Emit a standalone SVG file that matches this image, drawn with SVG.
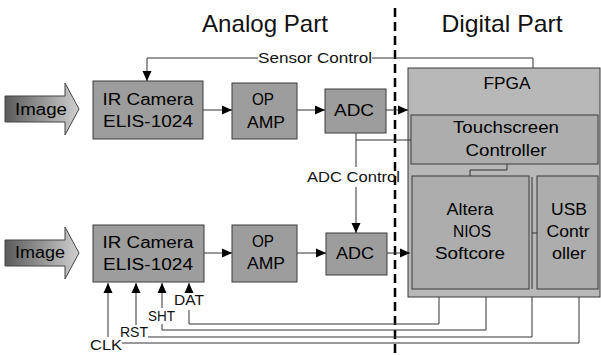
<svg xmlns="http://www.w3.org/2000/svg" width="601" height="355" viewBox="0 0 601 355">
<defs>
<linearGradient id="imgGrad" x1="0" y1="0" x2="1" y2="0">
<stop offset="0" stop-color="#5a5a5a"/>
<stop offset="1" stop-color="#cfcfcf"/>
</linearGradient>
<marker id="ah" markerWidth="10" markerHeight="10" refX="10" refY="5" orient="auto" markerUnits="userSpaceOnUse">
<path d="M0,0.5 L10,5 L0,9.5 Z" fill="#000"/>
</marker>
<style>
.box{fill:#9d9d9d;stroke:#3a3a3a;stroke-width:1}
.fpga{fill:#b8b8b8;stroke:#3a3a3a;stroke-width:1}
.sub{fill:#adadad;stroke:#3a3a3a;stroke-width:1}
.img{fill:url(#imgGrad);stroke:#444;stroke-width:1}
.t{font-family:"Liberation Sans",Arial,sans-serif;font-size:16px;fill:#000;text-anchor:middle}
.title{font-family:"Liberation Sans",Arial,sans-serif;font-size:24px;fill:#111;text-anchor:middle}
.lbl{font-family:"Liberation Sans",Arial,sans-serif;font-size:15px;fill:#111}
.c{fill:none;stroke:#333;stroke-width:1}
.ca{fill:none;stroke:#333;stroke-width:1;marker-end:url(#ah)}
.dash{fill:none;stroke:#000;stroke-width:2.5;stroke-dasharray:9,5}
</style>
</defs>
<rect width="601" height="355" fill="#fff"/>

<g id="titles">
<text class="title" x="265" y="32" textLength="126" lengthAdjust="spacingAndGlyphs">Analog Part</text>
<text class="title" x="502" y="32" textLength="121" lengthAdjust="spacingAndGlyphs">Digital Part</text>
</g>

<line id="divider" class="dash" x1="395" y1="8" x2="395" y2="355"/>

<g id="image1">
<path class="img" d="M5,96 H65 V83 L79,109 L65,135 V122 H5 Z"/>
<text class="t" x="41" y="115" textLength="52" lengthAdjust="spacingAndGlyphs">Image</text>
</g>
<g id="image2">
<path class="img" d="M5,240 H65 V227 L79,253 L65,279 V266 H5 Z"/>
<text class="t" x="40" y="258" textLength="50" lengthAdjust="spacingAndGlyphs">Image</text>
</g>

<g id="camera1">
<rect class="box" x="93" y="81" width="110" height="58"/>
<text class="t" x="148" y="105" textLength="91" lengthAdjust="spacingAndGlyphs">IR Camera</text>
<text class="t" x="148" y="127" textLength="90" lengthAdjust="spacingAndGlyphs">ELIS-1024</text>
</g>
<g id="opamp1">
<rect class="box" x="232" y="83" width="65" height="56"/>
<text class="t" x="263" y="105" textLength="22" lengthAdjust="spacingAndGlyphs">OP</text>
<text class="t" x="266" y="128" textLength="38" lengthAdjust="spacingAndGlyphs">AMP</text>
</g>
<g id="adc1">
<rect class="box" x="325" y="89" width="61" height="44"/>
<text class="t" x="354" y="116" textLength="40" lengthAdjust="spacingAndGlyphs">ADC</text>
</g>

<g id="camera2">
<rect class="box" x="93" y="225" width="111" height="57"/>
<text class="t" x="148" y="248" textLength="91" lengthAdjust="spacingAndGlyphs">IR Camera</text>
<text class="t" x="148" y="270" textLength="90" lengthAdjust="spacingAndGlyphs">ELIS-1024</text>
</g>
<g id="opamp2">
<rect class="box" x="232" y="225" width="65" height="57"/>
<text class="t" x="263" y="247" textLength="22" lengthAdjust="spacingAndGlyphs">OP</text>
<text class="t" x="266" y="269" textLength="38" lengthAdjust="spacingAndGlyphs">AMP</text>
</g>
<g id="adc2">
<rect class="box" x="326" y="233" width="61" height="42"/>
<text class="t" x="355" y="259" textLength="38" lengthAdjust="spacingAndGlyphs">ADC</text>
</g>

<g id="fpga">
<rect class="fpga" x="408" y="68" width="192" height="229"/>
<text class="t" x="507" y="89" textLength="47" lengthAdjust="spacingAndGlyphs">FPGA</text>
</g>
<g id="touchscreen">
<rect class="sub" x="411" y="115" width="187" height="49"/>
<text class="t" x="506" y="133" textLength="106" lengthAdjust="spacingAndGlyphs">Touchscreen</text>
<text class="t" x="506" y="156" textLength="81" lengthAdjust="spacingAndGlyphs">Controller</text>
</g>
<g id="nios">
<rect class="sub" x="412" y="176" width="117" height="113"/>
<text class="t" x="470" y="215" textLength="47" lengthAdjust="spacingAndGlyphs">Altera</text>
<text class="t" x="472" y="237" textLength="38" lengthAdjust="spacingAndGlyphs">NIOS</text>
<text class="t" x="470" y="259" textLength="70" lengthAdjust="spacingAndGlyphs">Softcore</text>
</g>
<g id="usb">
<rect class="sub" x="537" y="176" width="61" height="113"/>
<text class="t" x="569" y="215" textLength="36" lengthAdjust="spacingAndGlyphs">USB</text>
<text class="t" x="568" y="237" textLength="43" lengthAdjust="spacingAndGlyphs">Contr</text>
<text class="t" x="569" y="259" textLength="34" lengthAdjust="spacingAndGlyphs">oller</text>
</g>

<g id="connectors">
<path class="ca" d="M203,110 H232"/>
<path class="ca" d="M297,110 H325"/>
<path class="ca" d="M386,110 H408"/>
<path class="ca" d="M204,253 H232"/>
<path class="ca" d="M297,253 H326"/>
<path class="ca" d="M387,253 H410"/>
<path class="c" d="M258,58 H147"/>
<path class="ca" d="M147,58 V81"/>
<path class="c" d="M372,58 H533 V68"/>
<path class="c" d="M356,133 V167"/>
<path class="c" d="M356,140 H411"/>
<path class="ca" d="M356,187 V233"/>
<path class="c" d="M507,164 V170 H470 V176"/>
<path class="c" d="M532,177 V289 M532,233 H537"/>
<path class="ca" d="M108,337 V283"/>
<path class="ca" d="M136,325 V283"/>
<path class="ca" d="M162,308 V283"/>
<path class="ca" d="M189,293 V283"/>
<path class="c" d="M189,310 V324 H439 V297"/>
<path class="c" d="M162,324 V330 H486 V297"/>
<path class="c" d="M148,337 H532 V297"/>
<path class="c" d="M122,343 H579 V297"/>
</g>

<g id="labels">
<text class="lbl" x="258" y="63" textLength="114" lengthAdjust="spacingAndGlyphs">Sensor Control</text>
<text class="lbl" x="307" y="182" textLength="93" lengthAdjust="spacingAndGlyphs">ADC Control</text>
<text class="lbl" x="174" y="305" textLength="30" lengthAdjust="spacingAndGlyphs">DAT</text>
<text class="lbl" x="148" y="321" textLength="27" lengthAdjust="spacingAndGlyphs">SHT</text>
<text class="lbl" x="120" y="337" textLength="28" lengthAdjust="spacingAndGlyphs">RST</text>
<text class="lbl" x="90" y="350" textLength="32" lengthAdjust="spacingAndGlyphs">CLK</text>
</g>
</svg>
